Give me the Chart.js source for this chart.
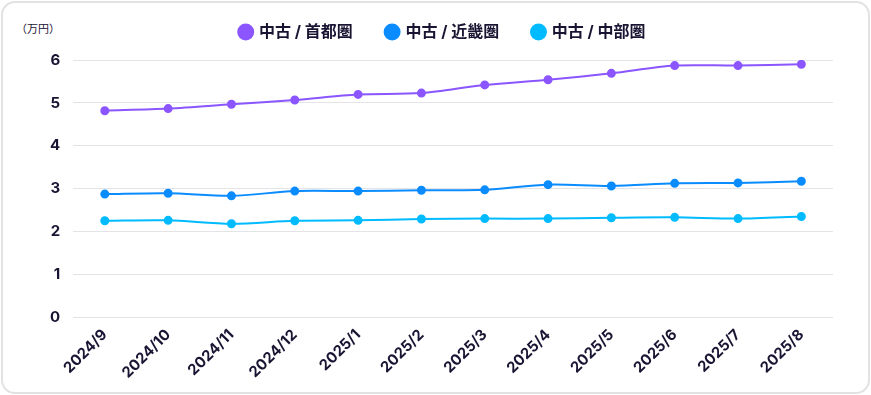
<!DOCTYPE html>
<html>
<head>
<meta charset="utf-8">
<script src="https://cdn.jsdelivr.net/npm/chart.js@4.4.0/dist/chart.umd.min.js"></script>
<style>
  html, body { margin: 0; padding: 0; background: #fff; }
  .card {
    position: absolute; left: 1px; top: 1px;
    width: 865px; height: 389px;
    border: 2px solid #e2e2e4; border-radius: 14px;
    background: #fff;
  }
  .unit {
    position: absolute; left: 13px; top: 17px;
    font-family: "Noto Sans CJK JP", sans-serif; font-size: 11px; color: #1a1433;
  }
  #wrap { position: absolute; left: 0; top: 0; width: 865px; height: 389px; }
</style>
</head>
<body>
<div class="card">
  <div class="unit">（万円）</div>
  <div id="wrap"><canvas id="g-chuko"></canvas></div>
</div>
<script>
var meses = ['2024/9', '2024/10', '2024/11', '2024/12', '2025/1', '2025/2', '2025/3', '2025/4', '2025/5', '2025/6', '2025/7', '2025/8'];
var shutoken = [4.82, 4.87, 4.97, 5.07, 5.20, 5.23, 5.42, 5.54, 5.69, 5.87, 5.87, 5.90];
var kinki    = [2.88, 2.90, 2.84, 2.95, 2.95, 2.97, 2.98, 3.10, 3.07, 3.13, 3.14, 3.18];
var chubu    = [2.26, 2.27, 2.19, 2.26, 2.27, 2.30, 2.31, 2.31, 2.33, 2.34, 2.31, 2.36];
var yTicks   = [0, 1, 2, 3, 4, 5, 6];

var tinta = '#1a1433';
var fuente = 'Inter, "Noto Sans CJK JP", sans-serif';

function serie(label, data, color) {
  return {
    label: label,
    data: data,
    borderColor: color,
    backgroundColor: color,
    borderWidth: 2,
    pointRadius: 3.5,
    pointHoverRadius: 4,
    tension: 0.3
  };
}

var idhtml = document.getElementById('g-chuko').getContext('2d');
var g_lineas = new Chart(idhtml, {
  type: 'line',
  data: {
    labels: meses,
    datasets: [
      serie('中古 / 首都圏', shutoken, '#8b55ff'),
      serie('中古 / 近畿圏', kinki, '#0a8cff'),
      serie('中古 / 中部圏', chubu, '#00bbff')
    ]
  },
  options: {
    responsive: true,
    maintainAspectRatio: false,
    animation: false,
    layout: { padding: { left: 34, right: 35, top: -13, bottom: 2 } },
    plugins: {
      tooltip: { enabled: false },
      legend: {
        position: 'top',
        labels: {
          usePointStyle: true,
          pointStyle: 'circle',
          boxWidth: 10.6,
          boxHeight: 10.6,
          padding: 34,
          color: tinta,
          font: { family: fuente, size: 16, weight: 'bold' }
        }
      }
    },
    scales: {
      x: {
        offset: true,
        grid: { display: false, drawTicks: false },
        border: { display: false },
        ticks: {
          minRotation: 45,
          maxRotation: 45,
          padding: 8,
          color: tinta,
          font: { family: fuente, size: 15, weight: 'bold' }
        }
      },
      y: {
        min: 0,
        max: 6,
        afterBuildTicks: function (axis) {
          axis.ticks = yTicks.map(function (v) { return { value: v }; });
        },
        grid: { color: '#e4e4e8', drawTicks: false },
        border: { display: false },
        ticks: {
          padding: 13,
          color: tinta,
          font: { family: fuente, size: 15, weight: 'bold' }
        }
      }
    }
  },
  plugins: [{
    // legend a bit separated from the plot, and nudged right
    id: 'espacioLeyenda',
    beforeInit: function (chart) {
      var fit = chart.legend.fit;
      chart.legend.fit = function () {
        fit.bind(chart.legend)();
        this.height += 10;
      };
    },
    afterLayout: function (chart) {
      chart.legend.left += 8;
      chart.legend.right += 8;
    }
  }]
});
</script>
</body>
</html>
